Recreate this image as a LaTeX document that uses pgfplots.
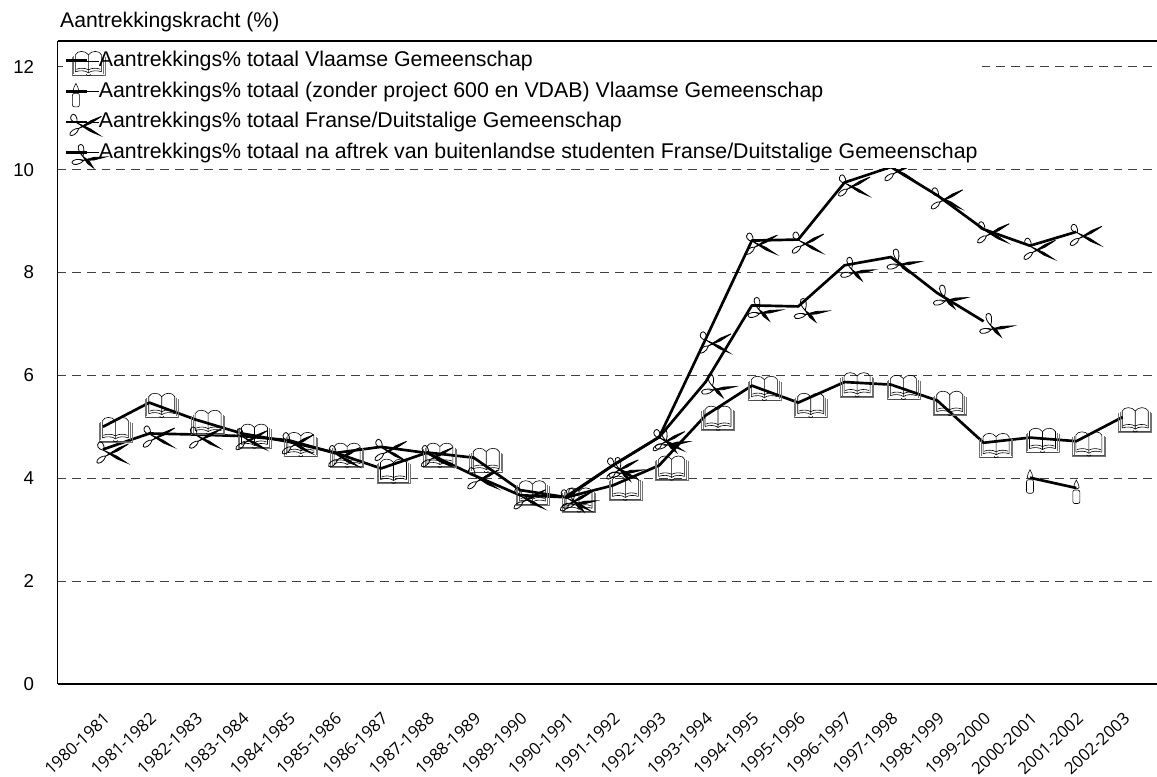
\documentclass[border=0pt]{standalone}
\usepackage{fontspec}
\usepackage{pgfplots}
\usepackage{pgfplotstable}
\pgfplotsset{compat=1.18}
\setmainfont{Liberation Sans}
\newfontfamily\tickfont{Open Sans}
\tikzset{mk/.style={overlay,x=0.75pt,y=0.75pt,line width=0.45pt,solid,black}}
% line marks in the manner of the reference's symbols, units are reference pixels
\pgfdeclareplotmark{book}{%
  \begin{scope}[mk]
  \draw[black!55] (-4,4) -- (-4,-15) -- (29,-15) -- (29,4);
  \draw[black!55] (-2.5,5) -- (-2.5,-13.5);
  \draw[black!55] (27.5,5) -- (27.5,-13.5);
  \draw[black!70] (-3.3,-14.2) -- (28.3,-14.2);
  \draw (-0.5,-11) -- (-0.5,6) .. controls (1.5,10.5) and (9.5,10.5) .. (12.5,6) -- (12.5,-12) .. controls (9.5,-9.5) and (3.5,-9.5) .. (-0.5,-11);
  \draw (25.5,-11) -- (25.5,6) .. controls (23.5,10.5) and (15.5,10.5) .. (12.5,6);
  \draw (12.5,-12) .. controls (15.5,-9.5) and (21.5,-9.5) .. (25.5,-11);
  \draw (0.5,-8.5) .. controls (4,-7) and (9,-7) .. (12.5,-9) .. controls (16,-7) and (21,-7) .. (24.5,-8.5);
  \draw (10.5,-13.5) arc (180:360:2 and 1.4);
  \end{scope}}
\pgfdeclareplotmark{candle}{%
  \begin{scope}[mk]
  \draw[rounded corners=1.5] (-3.5,-2) rectangle (3.5,-15.5);
  \draw (-2.8,0.5) .. controls (-2.8,3) and (-1,6) .. (0,8) .. controls (1,6) and (2.8,3) .. (2.8,0.5) .. controls (2.8,-1) and (-2.8,-1) .. (-2.8,0.5);
  \end{scope}}
\pgfdeclareplotmark{scisa}{%
  \begin{scope}[mk,line width=0.6pt]
  \draw (1,-1) .. controls (2,6) and (-2,9) .. (-4,7) .. controls (-7,4) and (-5,0) .. (1,-1);
  \draw (3,-6.5) .. controls (-1,-6) and (-7,-10) .. (-6,-13) .. controls (-5,-15) and (1,-13) .. (3,-6.5);
  \fill (3,-6.5) -- (15,1.2) -- (25.5,5.5) -- (15,-1.4) -- cycle;
  \fill (1,-1) -- (14,-6.8) -- (24,-13.5) -- (14,-9.4) -- cycle;
  \end{scope}}
\pgfdeclareplotmark{scisb}{%
  \begin{scope}[mk,line width=0.6pt]
  \draw (7,-4) .. controls (9,2) and (8,8) .. (5,8) .. controls (1,8) and (1,2) .. (7,-4);
  \draw (8,-8) .. controls (4,-6) and (-4,-7) .. (-4,-10) .. controls (-4,-14) and (5,-12) .. (8,-8);
  \fill (7,-8) -- (18,-5) -- (30,-4.5) -- (18,-7.6) -- cycle;
  \fill (7,-4) -- (13.5,-9) -- (17.5,-15.5) -- (11.5,-11) -- cycle;
  \end{scope}}
\pgfplotstableread{
x y
0 5.0
1 5.47
2 5.14
3 4.87
4 4.71
5 4.5
6 4.19
7 4.5
8 4.4
9 3.77
10 3.63
11 3.86
12 4.25
13 5.22
14 5.8
15 5.47
16 5.87
17 5.82
18 5.51
19 4.69
20 4.79
21 4.72
22 5.19
}\vlaams
\pgfplotstableread{
x y
20 4.01
21 3.81
}\zonder
\pgfplotstableread{
x y
0 4.56
1 4.87
2 4.85
3 4.82
4 4.74
5 4.49
6 4.61
7 4.49
8 4.06
9 3.67
10 3.63
11 4.25
12 4.8
13 6.7
14 8.62
15 8.64
16 9.75
17 10.05
18 9.5
19 8.84
20 8.52
21 8.79
}\frans
\pgfplotstableread{
x y
10 3.65
11 4.25
12 4.8
13 5.87
14 7.36
15 7.34
16 8.14
17 8.3
18 7.6
19 7.05
}\aftrek
\begin{document}
\begin{tikzpicture}
\useasboundingbox (0,0) rectangle (867.75pt,582pt);
\begin{axis}[
  at={(43.125pt,69pt)},anchor=south west,
  scale only axis,width=824.625pt,height=482.25pt,
  xmin=-0.98,xmax=22.74,ymin=0,ymax=12.5,
  axis lines*=left,
  axis line style={line width=1pt,-},
  ymajorgrids,
  major grid style={dash pattern=on 6.5pt off 4.5pt,black!75,line width=0.7pt},
  major tick length=0pt,
  xtick={0,...,22},
  xticklabels={1980-1981,1981-1982,1982-1983,1983-1984,1984-1985,1985-1986,1986-1987,1987-1988,1988-1989,1989-1990,1990-1991,1991-1992,1992-1993,1993-1994,1994-1995,1995-1996,1996-1997,1997-1998,1998-1999,1999-2000,2000-2001,2001-2002,2002-2003},
  xticklabel style={font=\tickfont\fontsize{12.5}{13}\selectfont,xshift=0pt,yshift=-15.5pt,rotate=43,anchor=north east},
  ytick={0,2,...,12},
  /pgf/number format/assume math mode=true,
  yticklabel style={font=\fontsize{14}{16}\selectfont,anchor=east,xshift=-14pt},
  ylabel={Aantrekkingskracht (\%)},
  every axis y label/.style={at={(rel axis cs:0,1)},anchor=south west,font=\fontsize{15.9}{18}\selectfont,yshift=3pt,xshift=-1.5pt},
  legend style={draw=none,fill=white,anchor=north west,at={(rel axis cs:0.005,0.9945)},
    font=\fontsize{16}{18}\selectfont,inner xsep=1pt,inner ysep=4.5pt,row sep=7.9pt,
    nodes={inner sep=0pt,text height=12pt,text depth=3pt,anchor=west}},
  legend cell align=left,
  legend image code/.code={\path (0pt,0pt) -- (24.5pt,0pt);
     \path[#1,only marks] plot coordinates {(7.5pt,0pt)};\draw[black,line width=2pt] (0pt,0pt) -- (16pt,0pt);},
  clip=false,
]
\addplot[only marks,black,mark=book] table {\vlaams};
\addlegendentry{Aantrekkings\% totaal Vlaamse Gemeenschap}
\addplot[only marks,black,mark=candle] table {\zonder};
\addlegendentry{Aantrekkings\% totaal (zonder project 600 en VDAB) Vlaamse Gemeenschap}
\addplot[only marks,black,mark=scisa] table {\frans};
\addlegendentry{Aantrekkings\% totaal Franse/Duitstalige Gemeenschap}
\addplot[only marks,black,mark=scisb] table {\aftrek};
\addlegendentry{Aantrekkings\% totaal na aftrek van buitenlandse studenten Franse/Duitstalige Gemeenschap}
\addplot[forget plot,black,line width=2pt,line join=round,mark=none] table {\vlaams};
\addplot[forget plot,black,line width=2pt,line join=round,mark=none] table {\zonder};
\addplot[forget plot,black,line width=2pt,line join=round,mark=none] table {\frans};
\addplot[forget plot,black,line width=2pt,line join=round,mark=none] table {\aftrek};
\draw[line width=1pt] (rel axis cs:0,1) -- (rel axis cs:1,1);
\end{axis}
\end{tikzpicture}
\end{document}
